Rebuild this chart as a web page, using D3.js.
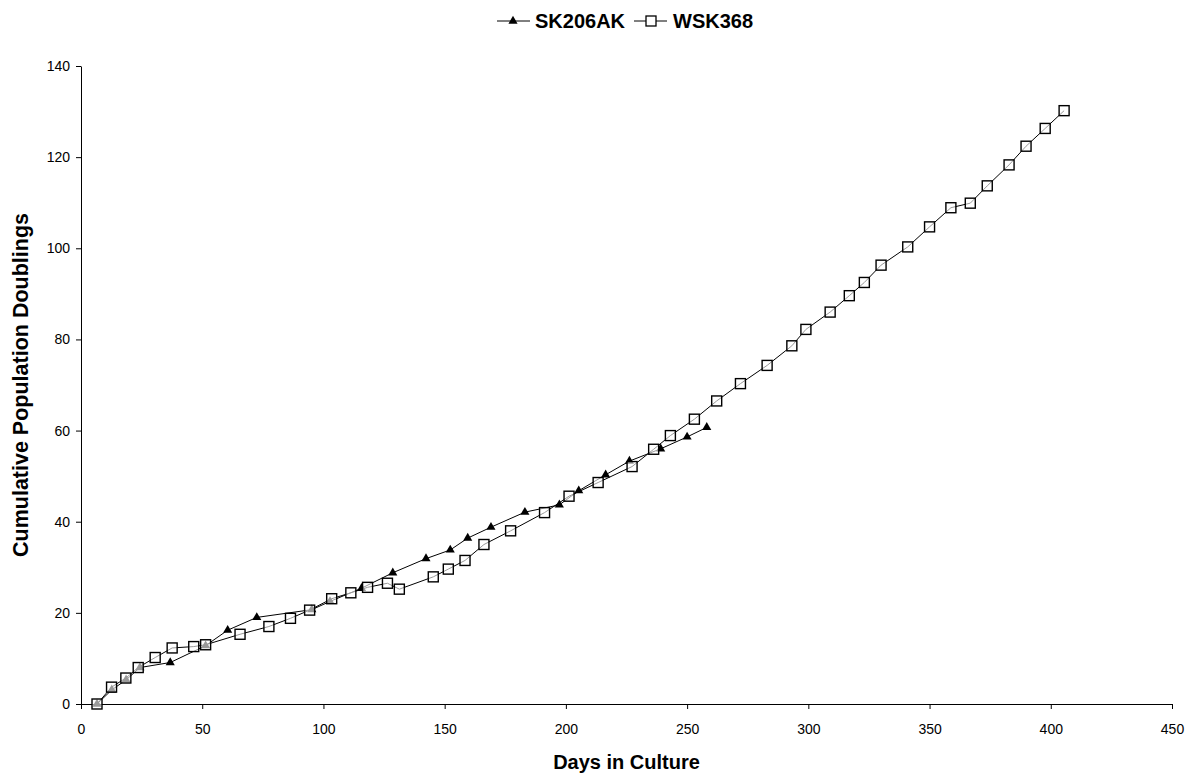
<!DOCTYPE html>
<html lang="en">
<head>
    <meta charset="UTF-8">
    <title>Cumulative Population Doublings</title>
    <script src="https://d3js.org/d3.v7.min.js"></script>
    <style>
        body { margin: 0; background: #fff; }
        svg { font-family: Arial, "Liberation Sans", sans-serif; }
        .tick text { font-size: 14px; fill: #000; }
        .axis-title { font-weight: bold; }
        .legend text { font-size: 20px; font-weight: bold; }
    </style>
</head>
<body>
    <svg id="chart" width="1191" height="775"></svg>

    <script>
        // SK206AK (triangles)
        const skDays = [6.6, 12.7, 18.6, 24.3, 36.8, 51.4, 60.5, 72.5, 95.2, 102.7, 115.7, 128.6, 142.3,
            152.3, 159.5, 169.1, 183.1, 197.3, 205.3, 216.4, 226.2, 239.1, 250, 258.1];
        const skValues = [0, 3.1, 5.3, 8.0, 9.1, 12.8, 16.2, 19.0, 20.7, 22.5, 25.4, 28.8, 31.9,
            33.8, 36.4, 38.8, 42.1, 43.7, 46.8, 50.3, 53.3, 56.0, 58.6, 60.7];

        // WSK368 (squares)
        const wskDays = [6.6, 12.6, 18.5, 23.6, 30.6, 37.6, 46.5, 51.4, 65.6, 77.5, 86.4, 94.3, 103.4,
            111.3, 118.2, 126.4, 131.3, 145.3, 151.5, 158.4, 166.2, 177.2, 191.2, 201.3, 213.3, 227.3,
            236.2, 243.1, 253, 262.2, 272, 283, 293.2, 299, 309, 316.9, 323.1, 330, 341, 350, 358.8,
            366.8, 373.8, 382.8, 389.8, 397.7, 405.5];
        const wskValues = [0, 3.7, 5.7, 8.0, 10.2, 12.3, 12.6, 13.0, 15.3, 17.0, 18.8, 20.6, 23.1,
            24.4, 25.6, 26.5, 25.2, 27.9, 29.6, 31.5, 35.0, 38.0, 42.0, 45.6, 48.6, 52.1,
            55.9, 58.9, 62.5, 66.5, 70.3, 74.3, 78.6, 82.2, 86.0, 89.6, 92.5, 96.3, 100.3, 104.7, 108.9,
            109.9, 113.7, 118.3, 122.4, 126.3, 130.2];

        const xTicks = d3.range(0, 451, 50);
        const yTicks = d3.range(0, 141, 20);

        const svg = d3.select("#chart");
        const margin = { left: 81, right: 19, top: 66, bottom: 71 };
        const width = 1191, height = 775;

        const x = d3.scaleLinear().domain([0, 450]).range([margin.left, width - margin.right]);
        const y = d3.scaleLinear().domain([0, 140]).range([height - margin.bottom, margin.top]);

        // axes
        svg.append("g")
            .attr("transform", `translate(0,${y(0)})`)
            .call(d3.axisBottom(x).tickValues(xTicks).tickSize(5).tickSizeOuter(0).tickPadding(15))
            .call(g => g.selectAll("line, path").attr("stroke", "#000"));

        svg.append("g")
            .attr("transform", `translate(${x(0)},0)`)
            .call(d3.axisLeft(y).tickValues(yTicks).tickSize(5).tickSizeOuter(0).tickPadding(6))
            .call(g => g.selectAll("line, path").attr("stroke", "#000"));

        svg.append("text")
            .attr("class", "axis-title")
            .attr("font-size", 20)
            .attr("text-anchor", "middle")
            .attr("x", (x(0) + x(450)) / 2)
            .attr("y", 769)
            .text("Days in Culture");

        svg.append("text")
            .attr("class", "axis-title")
            .attr("font-size", 21.5)
            .attr("text-anchor", "middle")
            .attr("transform", `translate(28,${(y(0) + y(140)) / 2}) rotate(-90)`)
            .text("Cumulative Population Doublings");

        const line = d3.line().x(d => x(d[0])).y(d => y(d[1]));
        const triangle = d3.symbol().type(d3.symbolTriangle).size(36);

        const sk = skDays.map((d, i) => [d, skValues[i]]);
        const wsk = wskDays.map((d, i) => [d, wskValues[i]]);

        svg.append("path").datum(sk).attr("d", line)
            .attr("fill", "none").attr("stroke", "#000").attr("stroke-width", 1);
        svg.append("path").datum(wsk).attr("d", line)
            .attr("fill", "none").attr("stroke", "#000").attr("stroke-width", 1);

        svg.append("g").selectAll("path")
            .data(sk)
            .enter().append("path")
            .attr("d", triangle)
            .attr("transform", d => `translate(${x(d[0])},${y(d[1])})`)
            .attr("fill", "#000");

        svg.append("g").selectAll("rect")
            .data(wsk)
            .enter().append("rect")
            .attr("x", d => x(d[0]) - 5)
            .attr("y", d => y(d[1]) - 5)
            .attr("width", 10)
            .attr("height", 10)
            .attr("fill", "#fff")
            .attr("fill-opacity", 0.6)
            .attr("stroke", "#000")
            .attr("stroke-width", 1.4);

        // legend
        const legend = svg.append("g").attr("class", "legend");
        const lg1 = legend.append("g").attr("transform", "translate(497,21)");
        lg1.append("line").attr("x1", 0).attr("x2", 33).attr("stroke", "#000");
        lg1.append("path").attr("d", triangle).attr("transform", "translate(16,0)").attr("fill", "#000");
        lg1.append("text").attr("x", 38).attr("y", 7).text("SK206AK");

        const lg2 = legend.append("g").attr("transform", "translate(634,21)");
        lg2.append("line").attr("x1", 0).attr("x2", 33).attr("stroke", "#000");
        lg2.append("rect").attr("x", 12).attr("y", -5).attr("width", 10).attr("height", 10)
            .attr("fill", "#fff").attr("stroke", "#000").attr("stroke-width", 1.3);
        lg2.append("text").attr("x", 39).attr("y", 7).text("WSK368");
    </script>
</body>
</html>
